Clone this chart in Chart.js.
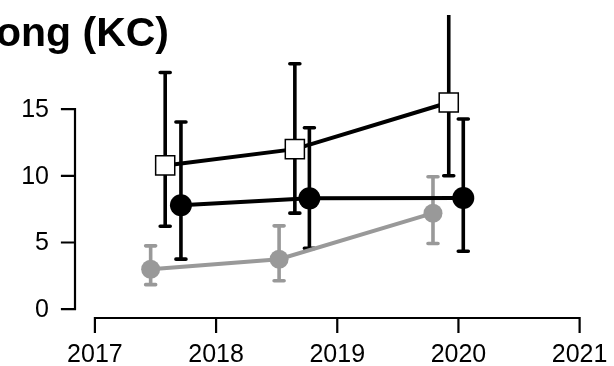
<!DOCTYPE html>
<html>
<head>
<meta charset="utf-8">
<script src="https://cdn.jsdelivr.net/npm/chart.js@4"></script>
<style>
  html, body { margin: 0; padding: 0; background: #fff; }
  canvas { display: block; }
</style>
</head>
<body>
<canvas id="chart" width="614" height="366"></canvas>
<script>
// values
var titleText = "ong (KC)";

var grayX = [2017.46, 2018.52, 2019.79];
var grayY = [3.0, 3.75, 7.2];
var grayLo = [1.84, 2.13, 4.93];
var grayHi = [4.75, 6.25, 9.93];

var blackX = [2017.71, 2018.77, 2020.04];
var blackY = [7.79, 8.31, 8.33];
var blackLo = [3.75, 4.56, 4.34];
var blackHi = [14.04, 13.6, 14.26];

var squareX = [2017.58, 2018.65, 2019.92];
var squareY = [10.78, 12.0, 15.5];
var squareLo = [6.22, 7.2, 10.0];
var squareHi = [17.75, 18.4, 25.0];

var xTicks = [2017, 2018, 2019, 2020, 2021];
var yTicks = [0, 5, 10, 15];

function pts(xs, ys) {
  return xs.map(function(x, i) { return {x: x, y: ys[i]}; });
}

var gray = "#999999";
var font = "'Liberation Sans', Arial, sans-serif";

// error bars, drawn under the points
var errorBars = {
  id: "errorBars",
  beforeDatasetsDraw: function(chart) {
    var ctx = chart.ctx, xs = chart.scales.x, ys = chart.scales.y, a = chart.chartArea;
    ctx.save();
    ctx.beginPath();
    ctx.rect(a.left, a.top, a.right - a.left, a.bottom - a.top);
    ctx.clip();
    chart.data.datasets.forEach(function(ds) {
      ctx.strokeStyle = ds.barColor;
      ctx.lineWidth = 3.6;
      ctx.lineCap = "round";
      ds.data.forEach(function(p, i) {
        var px = xs.getPixelForValue(p.x);
        var top = ys.getPixelForValue(ds.hi[i]);
        var bot = ys.getPixelForValue(ds.lo[i]);
        ctx.beginPath();
        ctx.moveTo(px, top); ctx.lineTo(px, bot);
        ctx.moveTo(px - 5, top); ctx.lineTo(px + 5, top);
        ctx.moveTo(px - 5, bot); ctx.lineTo(px + 5, bot);
        ctx.stroke();
      });
    });
    ctx.restore();
  }
};

// R style detached axes and the title
var baseAxes = {
  id: "baseAxes",
  afterDraw: function(chart) {
    var ctx = chart.ctx, xs = chart.scales.x, ys = chart.scales.y;
    var axX = 75, axY = 318;
    ctx.save();
    ctx.strokeStyle = "#000";
    ctx.fillStyle = "#000";
    ctx.lineWidth = 2.2;
    ctx.lineCap = "square";

    // y axis
    ctx.beginPath();
    ctx.moveTo(axX, ys.getPixelForValue(yTicks[0]));
    ctx.lineTo(axX, ys.getPixelForValue(yTicks[yTicks.length - 1]));
    yTicks.forEach(function(t) {
      var py = ys.getPixelForValue(t);
      ctx.moveTo(axX, py); ctx.lineTo(axX - 13, py);
    });
    ctx.stroke();
    ctx.font = "25px " + font;
    ctx.textAlign = "right";
    ctx.textBaseline = "middle";
    yTicks.forEach(function(t) {
      ctx.fillText(String(t), 49, ys.getPixelForValue(t) + 1);
    });

    // x axis
    ctx.beginPath();
    ctx.moveTo(xs.getPixelForValue(xTicks[0]), axY);
    ctx.lineTo(xs.getPixelForValue(xTicks[xTicks.length - 1]), axY);
    xTicks.forEach(function(t) {
      var px = xs.getPixelForValue(t);
      ctx.moveTo(px, axY); ctx.lineTo(px, axY + 14);
    });
    ctx.stroke();
    ctx.textAlign = "center";
    ctx.textBaseline = "alphabetic";
    xTicks.forEach(function(t) {
      ctx.fillText(String(t), xs.getPixelForValue(t), 362);
    });

    // title, cut at the left edge
    ctx.font = "bold 41px " + font;
    ctx.textAlign = "right";
    ctx.fillText(titleText, 169, 46);
    ctx.restore();
  }
};

new Chart(document.getElementById("chart"), {
  type: "line",
  data: {
    datasets: [
      {
        data: pts(squareX, squareY), lo: squareLo, hi: squareHi, barColor: "#000",
        borderColor: "#000", borderWidth: 4, borderCapStyle: "round",
        pointStyle: "rect", pointRadius: 13.5, pointBackgroundColor: "#fff",
        pointBorderColor: "#000", pointBorderWidth: 1.5, order: 1
      },
      {
        data: pts(blackX, blackY), lo: blackLo, hi: blackHi, barColor: "#000",
        borderColor: "#000", borderWidth: 4, borderCapStyle: "round",
        pointRadius: 11, pointBackgroundColor: "#000",
        pointBorderColor: "#000", pointBorderWidth: 0, order: 2
      },
      {
        data: pts(grayX, grayY), lo: grayLo, hi: grayHi, barColor: gray,
        borderColor: gray, borderWidth: 4, borderCapStyle: "round",
        pointRadius: 9.5, pointBackgroundColor: gray,
        pointBorderColor: gray, pointBorderWidth: 0, order: 3
      }
    ]
  },
  options: {
    responsive: false,
    animation: false,
    devicePixelRatio: 1,
    layout: { padding: { left: 75, top: 9, right: 12.5, bottom: 48 } },
    plugins: { legend: { display: false }, title: { display: false }, tooltip: { enabled: false } },
    elements: { line: { tension: 0 } },
    scales: {
      x: { type: "linear", min: 2016.8357, max: 2021.16, display: false },
      y: { type: "linear", min: -0.662, max: 22.06, display: false }
    }
  },
  plugins: [errorBars, baseAxes]
});
</script>
</body>
</html>
